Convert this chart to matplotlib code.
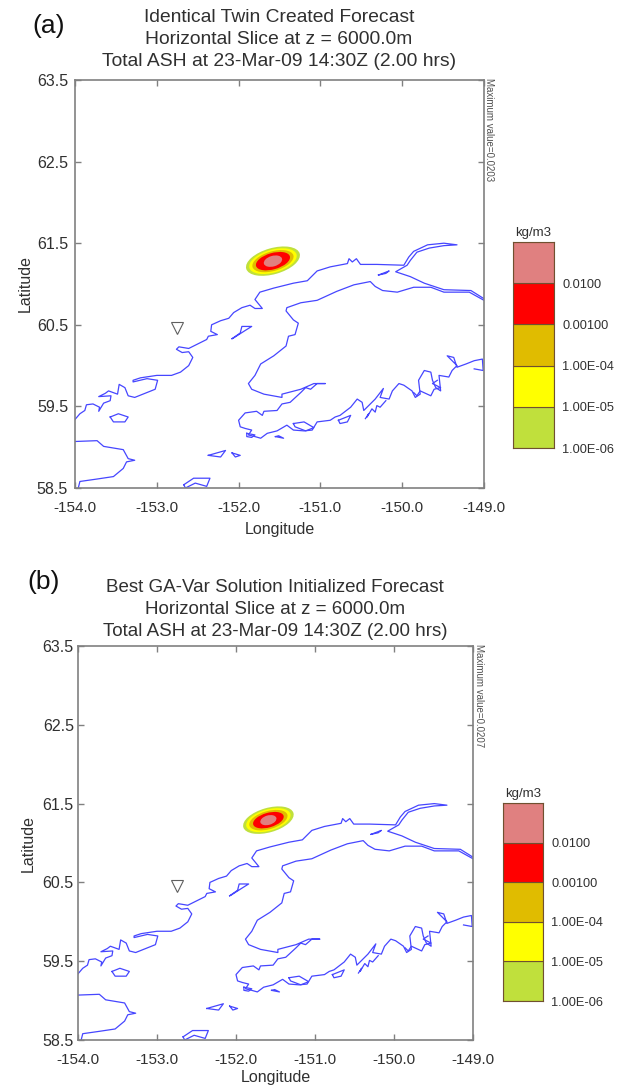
import matplotlib
matplotlib.use('Agg')
from matplotlib import pyplot as plt
from matplotlib.patches import Ellipse

plt.rcParams['font.family'] = ['Liberation Sans', 'DejaVu Sans']

# coastline pieces, degrees
west_lon = [-154.00,-153.94,-153.88,-153.86,-153.78,-153.70,-153.71,-153.65,-153.57,-153.56,-153.71,-153.63,-153.59,-153.48,-153.46,-153.39,-153.35,-153.27,-153.12,-153.02,-152.99,-153.12,-153.29,-153.29,-153.20,-153.00,-152.82,-152.71,-152.61,-152.56,-152.61,-152.69,-152.76,-152.73,-152.61,-152.51,-152.39,-152.37,-152.26,-152.34,-152.33,-152.22,-152.12,-152.06,-151.96,-151.86,-151.80,-151.71,-151.80,-151.74,-151.57,-151.33,-151.16,-151.04,-150.88,-150.67,-150.65,-150.61,-150.56,-150.51,-150.31,-149.98,-149.92,-149.86,-149.69,-149.49,-149.33,-149.49,-149.67,-149.82,-149.90,-149.94,-150.08,-149.90,-149.73,-149.49,-149.16,-149.00]
west_lat = [59.34,59.41,59.45,59.52,59.53,59.49,59.44,59.54,59.57,59.63,59.62,59.66,59.69,59.65,59.77,59.73,59.63,59.61,59.67,59.71,59.82,59.84,59.80,59.82,59.85,59.88,59.88,59.92,60.00,60.10,60.17,60.16,60.20,60.23,60.21,60.26,60.32,60.36,60.38,60.42,60.50,60.55,60.58,60.65,60.71,60.74,60.70,60.70,60.81,60.90,60.95,61.01,61.04,61.16,61.21,61.25,61.31,61.27,61.31,61.24,61.24,61.23,61.33,61.40,61.48,61.50,61.48,61.47,61.44,61.39,61.29,61.23,61.15,61.09,61.01,60.93,60.92,60.82]

kenai_lon = [-149.00,-149.18,-149.49,-149.65,-149.86,-150.06,-150.24,-150.33,-150.39,-150.59,-150.80,-151.04,-151.24,-151.41,-151.42,-151.33,-151.27,-151.31,-151.39,-151.42,-151.57,-151.73,-151.80,-151.88,-151.84,-151.69,-151.47,-151.47,-151.24,-151.08,-150.94,-151.04,-151.12,-151.18,-151.24,-151.37,-151.47,-151.53,-151.69,-151.71,-151.78,-151.92,-152.00,-151.98,-151.92,-151.84,-151.88,-151.80,-151.73,-151.65,-151.53,-151.41,-151.33,-151.20,-151.10,-151.04,-150.88,-150.82,-150.76,-150.63,-150.55,-150.49,-150.47,-150.39,-150.33,-150.23,-150.27,-150.16,-150.12,-150.04,-149.98,-149.88,-149.84,-149.78,-149.80,-149.73,-149.65,-149.63,-149.59,-149.53,-149.55,-149.43,-149.39,-149.33,-149.45,-149.37,-149.33,-149.22,-149.12,-149.02,-149.01,-149.12]
kenai_lat = [60.80,60.90,60.90,60.96,60.96,60.90,60.92,60.97,61.03,60.99,60.91,60.80,60.77,60.71,60.67,60.56,60.52,60.38,60.36,60.24,60.12,60.02,59.88,59.78,59.71,59.65,59.61,59.65,59.71,59.78,59.78,59.78,59.71,59.73,59.67,59.55,59.53,59.45,59.44,59.39,59.44,59.42,59.33,59.25,59.23,59.21,59.15,59.13,59.11,59.17,59.20,59.27,59.21,59.20,59.21,59.31,59.33,59.37,59.39,59.49,59.59,59.55,59.45,59.53,59.59,59.72,59.61,59.59,59.69,59.78,59.76,59.69,59.61,59.65,59.82,59.94,59.92,59.82,59.73,59.69,59.88,59.86,59.94,60.00,60.12,60.10,59.98,60.02,60.06,60.08,59.94,59.96]

south_lon = [-154.00,-153.73,-153.65,-153.41,-153.35,-153.27,-153.37,-153.41,-153.53,-153.73,-153.94,-153.96]
south_lat = [59.07,59.08,59.01,58.97,58.86,58.84,58.82,58.74,58.64,58.61,58.58,58.50]

islands = [
    ([-152.08,-151.98,-151.96,-151.84,-151.92,-152.06,-152.08], [60.33,60.40,60.48,60.48,60.43,60.34,60.33]),
    ([-150.29,-150.16,-150.20,-150.29], [61.11,61.16,61.13,61.11]),
    ([-153.57,-153.47,-153.35,-153.39,-153.53,-153.57], [59.37,59.41,59.37,59.31,59.31,59.37]),
    ([-152.37,-152.16,-152.22,-152.37], [58.90,58.96,58.88,58.90]),
    ([-152.08,-151.98,-152.04,-152.08], [58.93,58.90,58.88,58.93]),
    ([-152.67,-152.55,-152.35,-152.39,-152.53,-152.65,-152.67], [58.54,58.62,58.62,58.52,58.56,58.50,58.54]),
    ([-150.78,-150.63,-150.67,-150.76,-150.78], [59.33,59.39,59.31,59.29,59.33]),
    ([-150.45,-150.41,-150.43,-150.37,-150.33,-150.31,-150.27,-150.20], [59.35,59.41,59.37,59.47,59.43,59.51,59.49,59.57]),
    ([-149.86,-149.82,-149.78,-149.65,-149.61,-149.53,-149.63,-149.57], [59.67,59.63,59.69,59.63,59.71,59.73,59.78,59.82]),
    ([-151.33,-151.20,-151.08,-151.18,-151.31,-151.33], [59.29,59.31,59.24,59.20,59.25,59.29]),
    ([-151.55,-151.45,-151.51,-151.55], [59.13,59.11,59.14,59.13]),
    ([-151.90,-151.80,-151.84,-151.90,-151.90], [59.17,59.15,59.12,59.13,59.17]),
]

volcano_lon = -152.75
volcano_lat = 60.46

xticks = [-154.0, -153.0, -152.0, -151.0, -150.0, -149.0]
yticks = [58.5, 59.5, 60.5, 61.5, 62.5, 63.5]

level_colors = ['#c0e03c', '#ffff00', '#e0bc00', '#ff0000', '#e08080']
level_labels = ['1.00E-06', '1.00E-05', '1.00E-04', '0.00100', '0.0100']

# plume ellipses, outer to inner (degrees)
plume_a = {'lon': -151.58, 'lat': 61.28, 'w': [0.68, 0.60, 0.52, 0.43, 0.23], 'h': [0.32, 0.28, 0.24, 0.20, 0.13]}
plume_b = {'lon': -151.59, 'lat': 61.29, 'w': [0.66, 0.58, 0.50, 0.40, 0.21], 'h': [0.31, 0.27, 0.23, 0.185, 0.12]}

GREY = '#808080'
TEXT = '#303030'


def draw_panel(fig, box, cbox, letter, letter_pos, titles, title_x, title_y, title_size, maxval, plume,
               ypad, ylabelpad, xlabelpad):
    W, H = fig.get_size_inches() * fig.dpi
    l, t, r, b = box
    ax = fig.add_axes([l / W, 1 - b / H, (r - l) / W, (b - t) / H])
    ax.set_xlim(-154, -149)
    ax.set_ylim(58.5, 63.5)

    for seg_lon, seg_lat in [(west_lon, west_lat), (kenai_lon, kenai_lat), (south_lon, south_lat)] + islands:
        ax.plot(seg_lon, seg_lat, color='#4646ff', lw=0.9, clip_on=True)

    for w, h, c in zip(plume['w'], plume['h'], level_colors):
        ax.add_patch(Ellipse((plume['lon'], plume['lat']), w, h, angle=16, facecolor=c, edgecolor='none'))

    ax.plot(volcano_lon, volcano_lat, marker='v', ms=8, mfc='white', mec='#606060', mew=0.8)

    ax.set_xticks(xticks)
    ax.set_yticks(yticks)
    ax.set_xticklabels(['%.1f' % v for v in xticks])
    ax.set_yticklabels(['%.1f' % v for v in yticks])
    ax.tick_params(direction='in', top=True, right=True, length=4, width=1, color=GREY, labelcolor=TEXT)
    ax.tick_params(axis='x', labelsize=11, pad=9.5)
    ax.tick_params(axis='y', labelsize=11.5, pad=ypad)
    for s in ax.spines.values():
        s.set_color(GREY)
        s.set_linewidth(1.2)
    ax.set_xlabel('Longitude', fontsize=11.5, color=TEXT, labelpad=xlabelpad)
    ax.set_ylabel('Latitude', fontsize=11.5, color=TEXT, labelpad=ylabelpad)

    # title lines and panel letter
    for line, y in zip(titles, title_y):
        fig.text(title_x / W, 1 - y / H, line, ha='center', va='center', fontsize=title_size, color=TEXT)
    fig.text(letter_pos[0] / W, 1 - letter_pos[1] / H, letter, fontsize=19, color='#111111', va='center')
    fig.text((r + 0.5) / W, 1 - (t - 2) / H, 'Maximum value=' + maxval, rotation=270, fontsize=7,
             color='#505050', va='top', ha='left')

    # colour scale
    cl, ct, cr, cb = cbox
    cax = fig.add_axes([cl / W, 1 - cb / H, (cr - cl) / W, (cb - ct) / H])
    cax.bar([0] * 5, [1] * 5, bottom=range(5), width=1, color=level_colors, edgecolor='#705030', linewidth=0.8)
    cax.set_xlim(-0.5, 0.5)
    cax.set_ylim(0, 5)
    cax.set_xticks([])
    cax.yaxis.tick_right()
    cax.set_yticks(range(5))
    cax.set_yticklabels(level_labels)
    cax.tick_params(length=0, labelsize=9.2, labelcolor=TEXT, pad=6)
    for s in cax.spines.values():
        s.set_color('#705030')
    cax.set_title('kg/m3', fontsize=9.5, color=TEXT, pad=4)


fig = plt.figure(figsize=(6.24, 10.86), dpi=100)

draw_panel(fig, (75, 80, 484, 488), (513, 242, 554, 448), '(a)', (32, 26),
           ['Identical Twin Created Forecast', 'Horizontal Slice at z = 6000.0m',
            'Total ASH at 23-Mar-09 14:30Z (2.00 hrs)'], 279, [18, 40, 62], 13.9, '0.0203', plume_a,
           5, 3, 5)

draw_panel(fig, (78, 646, 473, 1040), (503, 803, 543, 1001), '(b)', (27, 582),
           ['Best GA-Var Solution Initialized Forecast', 'Horizontal Slice at z = 6000.0m',
            'Total ASH at 23-Mar-09 14:30Z (2.00 hrs)'], 275, [587, 609, 631], 13.5, '0.0207', plume_b,
           3, 5, 2)

fig.savefig('out.png', dpi=100)
